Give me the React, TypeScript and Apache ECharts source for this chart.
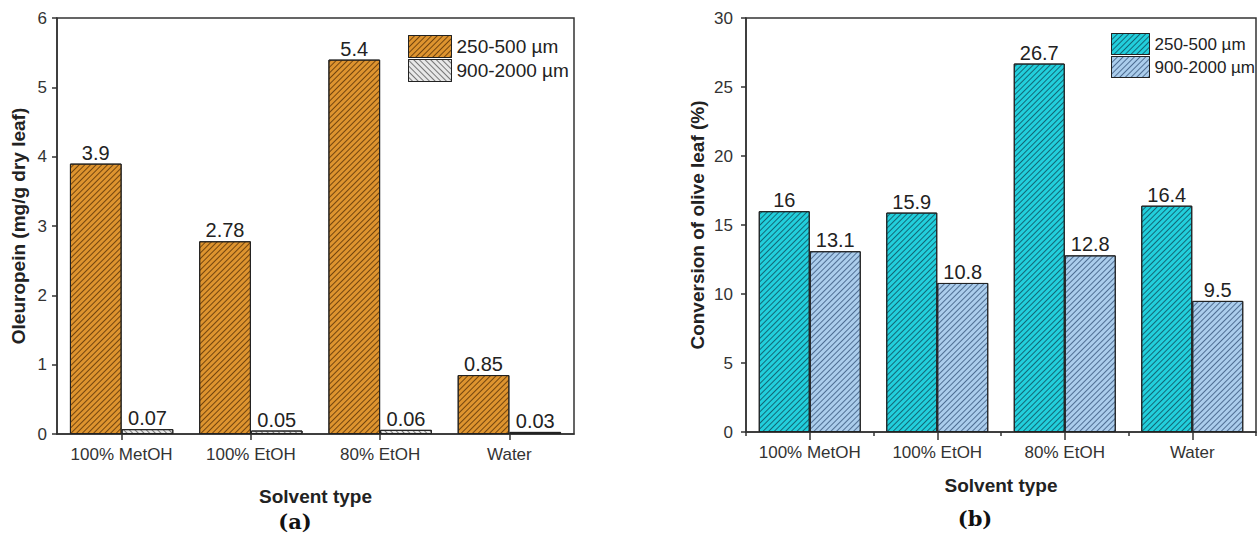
import React, { useEffect, useRef } from "react";
import * as echarts from "echarts";

const categories = ["100% MetOH", "100% EtOH", "80% EtOH", "Water"];
const oleuropeinSmall = [3.9, 2.78, 5.4, 0.85];
const oleuropeinLarge = [0.07, 0.05, 0.06, 0.03];
const conversionSmall = [16, 15.9, 26.7, 16.4];
const conversionLarge = [13.1, 10.8, 12.8, 9.5];
const seriesNames = ["250-500 µm", "900-2000 µm"];

const FONT = "'Liberation Sans', Arial, sans-serif";

function hatch(color: string, dir: number) {
  return {
    symbol: "rect",
    symbolSize: 1,
    color,
    dashArrayX: [1, 0],
    dashArrayY: [1, 2.6],
    rotation: (dir * Math.PI) / 4,
  };
}

const styles = {
  orange: { color: "#DE942F", decal: hatch("rgba(70,35,0,0.7)", -1) },
  gray: { color: "#E8E8E8", decal: hatch("rgba(80,80,80,0.75)", 1) },
  cyan: { color: "#22CFDC", decal: hatch("rgba(10,60,75,0.7)", -1) },
  blue: { color: "#ABCDEC", decal: hatch("rgba(40,70,110,0.7)", -1) },
};

export default function App() {
  const ref = useRef<HTMLDivElement>(null);
  useEffect(() => {
    document.body.style.margin = "0";
    const chart = echarts.init(ref.current!, null, { renderer: "svg" });
    const axisLine = { show: true, lineStyle: { color: "#333", width: 1.5 } };
    const tickLabel = { color: "#333", fontSize: 17, fontFamily: FONT };
    const nameStyle = { color: "#222", fontSize: 19, fontWeight: "bold" as const, fontFamily: FONT };
    const valueLabel = {
      show: true,
      position: "top" as const,
      distance: 1,
      color: "#222",
      fontSize: 20,
      fontFamily: FONT,
    };
    const bar = (name: string, data: number[], idx: number, st: any) => ({
      type: "bar",
      name,
      data,
      xAxisIndex: idx,
      yAxisIndex: idx,
      barGap: "0%",
      barCategoryGap: "20%",
      itemStyle: { color: st.color, borderColor: "#222", borderWidth: 1, decal: st.decal },
      label: valueLabel,
    });
    const legendItem = (name: string, st: any) => ({
      name,
      itemStyle: { color: st.color, borderColor: "#222", borderWidth: 1, decal: st.decal },
    });
    chart.setOption({
      animation: false,
      backgroundColor: "#fff",
      grid: [
        { left: 57, top: 18, width: 517, height: 416, show: true, borderColor: "#333", borderWidth: 1.5 },
        { left: 746, top: 18, width: 510, height: 414, show: true, borderColor: "#333", borderWidth: 1.5 },
      ],
      legend: [
        {
          data: [legendItem(seriesNames[0], styles.orange), legendItem(seriesNames[1], styles.gray)],
          left: 403,
          top: 30,
          orient: "vertical",
          itemWidth: 43,
          itemHeight: 22,
          itemGap: 1,
          icon: "rect",
          textStyle: { color: "#222", fontSize: 19, fontFamily: FONT },
        },
        {
          data: [legendItem(seriesNames[0], styles.cyan), legendItem(seriesNames[1], styles.blue)],
          left: 1106,
          top: 28,
          orient: "vertical",
          itemWidth: 38,
          itemHeight: 21,
          itemGap: 1,
          icon: "rect",
          textStyle: { color: "#222", fontSize: 17, fontFamily: FONT },
        },
      ],
      xAxis: [
        {
          type: "category",
          gridIndex: 0,
          data: categories,
          axisLine,
          axisTick: { show: true, alignWithLabel: true, length: 6, lineStyle: { color: "#333", width: 1.5 } },
          axisLabel: { ...tickLabel, margin: 12, interval: 0 },
          name: "Solvent type",
          nameLocation: "middle",
          nameGap: 53,
          nameTextStyle: nameStyle,
        },
        {
          type: "category",
          gridIndex: 1,
          position: "bottom",
          data: categories,
          axisLine,
          axisTick: { show: true, alignWithLabel: true, length: 8, lineStyle: { color: "#333", width: 1.5 } },
          axisLabel: { ...tickLabel, margin: 12, interval: 0 },
          name: "Solvent type",
          nameLocation: "middle",
          nameGap: 44,
          nameTextStyle: nameStyle,
        },
        {
          type: "category",
          gridIndex: 1,
          position: "bottom",
          data: categories,
          axisLine: { show: false },
          axisTick: { show: true, length: 4, lineStyle: { color: "#333", width: 1.5 } },
          axisLabel: { show: false },
        },
      ],
      yAxis: [
        {
          type: "value",
          gridIndex: 0,
          min: 0,
          max: 6,
          interval: 1,
          splitLine: { show: false },
          axisLine,
          axisTick: { show: true, length: 5, lineStyle: { color: "#333", width: 1.5 } },
          axisLabel: { ...tickLabel, margin: 10 },
          name: "Oleuropein (mg/g dry leaf)",
          nameLocation: "middle",
          nameGap: 29,
          nameTextStyle: nameStyle,
        },
        {
          type: "value",
          gridIndex: 1,
          min: 0,
          max: 30,
          interval: 5,
          splitLine: { show: false },
          axisLine,
          axisTick: { show: true, length: 5, lineStyle: { color: "#333", width: 1.5 } },
          axisLabel: { ...tickLabel, margin: 13 },
          name: "Conversion of olive leaf (%)",
          nameLocation: "middle",
          nameGap: 39,
          nameTextStyle: nameStyle,
        },
      ],
      series: [
        bar(seriesNames[0], oleuropeinSmall, 0, styles.orange),
        bar(seriesNames[1], oleuropeinLarge, 0, styles.gray),
        bar(seriesNames[0], conversionSmall, 1, styles.cyan),
        bar(seriesNames[1], conversionLarge, 1, styles.blue),
      ],
      graphic: [
        {
          type: "text",
          x: 295,
          y: 521,
          style: { text: "(a)", font: "bold 21px 'DejaVu Serif', serif", fill: "#111", align: "center", verticalAlign: "middle" },
        },
        {
          type: "text",
          x: 975,
          y: 518,
          style: { text: "(b)", font: "bold 21px 'DejaVu Serif', serif", fill: "#111", align: "center", verticalAlign: "middle" },
        },
      ],
    });
    return () => chart.dispose();
  }, []);
  return <div ref={ref} style={{ width: 1258, height: 537 }} />;
}
